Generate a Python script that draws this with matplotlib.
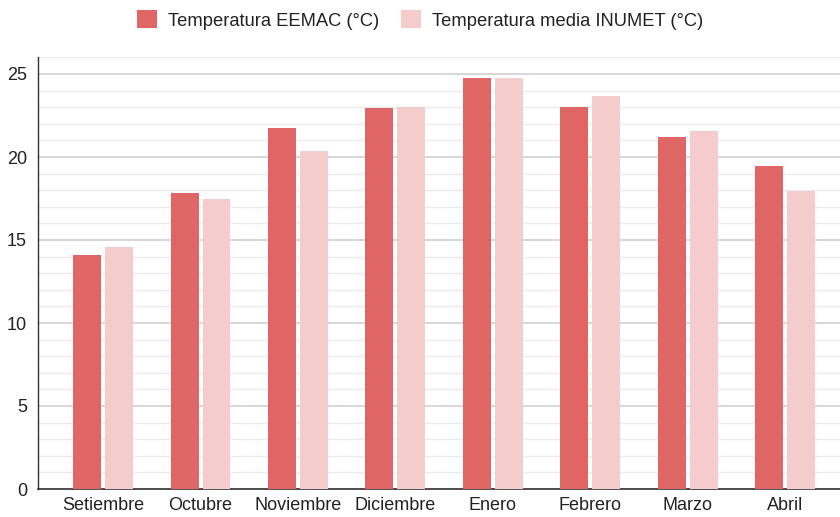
import matplotlib
matplotlib.use("Agg")
import matplotlib.pyplot as plt
from matplotlib.patches import Patch
import numpy as np

plt.rcParams['font.family'] = ['Liberation Sans', 'DejaVu Sans']

months = ["Setiembre", "Octubre", "Noviembre", "Diciembre", "Enero",
          "Febrero", "Marzo", "Abril"]
temp_eemac = [14.1, 17.85, 21.75, 22.95, 24.78, 23.03, 21.22, 19.47]
temp_inumet = [14.56, 17.48, 20.36, 23.0, 24.78, 23.67, 21.58, 17.97]
series_names = ["Temperatura EEMAC (°C)", "Temperatura media INUMET (°C)"]
yticks = [0, 5, 10, 15, 20, 25]

c_eemac = "#E06666"
c_inumet = "#F4CCCC"

fig = plt.figure(figsize=(8.4, 5.17), dpi=100)
ax = fig.add_axes([38 / 840, 1 - 489 / 517, 1 - 38 / 840, (489 - 57.4) / 517])

x = np.arange(len(months))
w = 0.287
gap = 0.041
ax.bar(x - (w + gap) / 2, temp_eemac, width=w, color=c_eemac, zorder=3)
ax.bar(x + (w + gap) / 2, temp_inumet, width=w, color=c_inumet, zorder=3)

ax.set_xlim(-0.667, 7.56)
ax.set_ylim(0, 26)
ax.set_yticks(yticks)
ax.set_yticks(np.arange(0, 27, 1), minor=True)
ax.grid(axis='y', which='major', color='#d0d0d0', linewidth=1.2, zorder=0)
ax.grid(axis='y', which='minor', color='#ebebeb', linewidth=1.0, zorder=0)
ax.tick_params(axis='y', which='both', length=0, labelsize=13, pad=8, colors='#222222')
ax.set_xticks(x)
ax.set_xticklabels(months)
ax.tick_params(axis='x', length=0, labelsize=13, pad=6, colors='#222222')

for s in ['top', 'right']:
    ax.spines[s].set_visible(False)
ax.spines['left'].set_color('#333333')
ax.spines['bottom'].set_color('#333333')
ax.spines['left'].set_linewidth(1.0)
ax.spines['bottom'].set_linewidth(1.2)

handles = [Patch(facecolor=c_eemac), Patch(facecolor=c_inumet)]
fig.legend(handles, series_names, loc='center', bbox_to_anchor=(0.5, 1 - 20 / 517),
           ncol=2, frameon=False, fontsize=13.2, handlelength=1.1, handleheight=1.1,
           handletextpad=0.6, columnspacing=1.2, labelcolor='#222222')

fig.savefig("out.png", dpi=100)
